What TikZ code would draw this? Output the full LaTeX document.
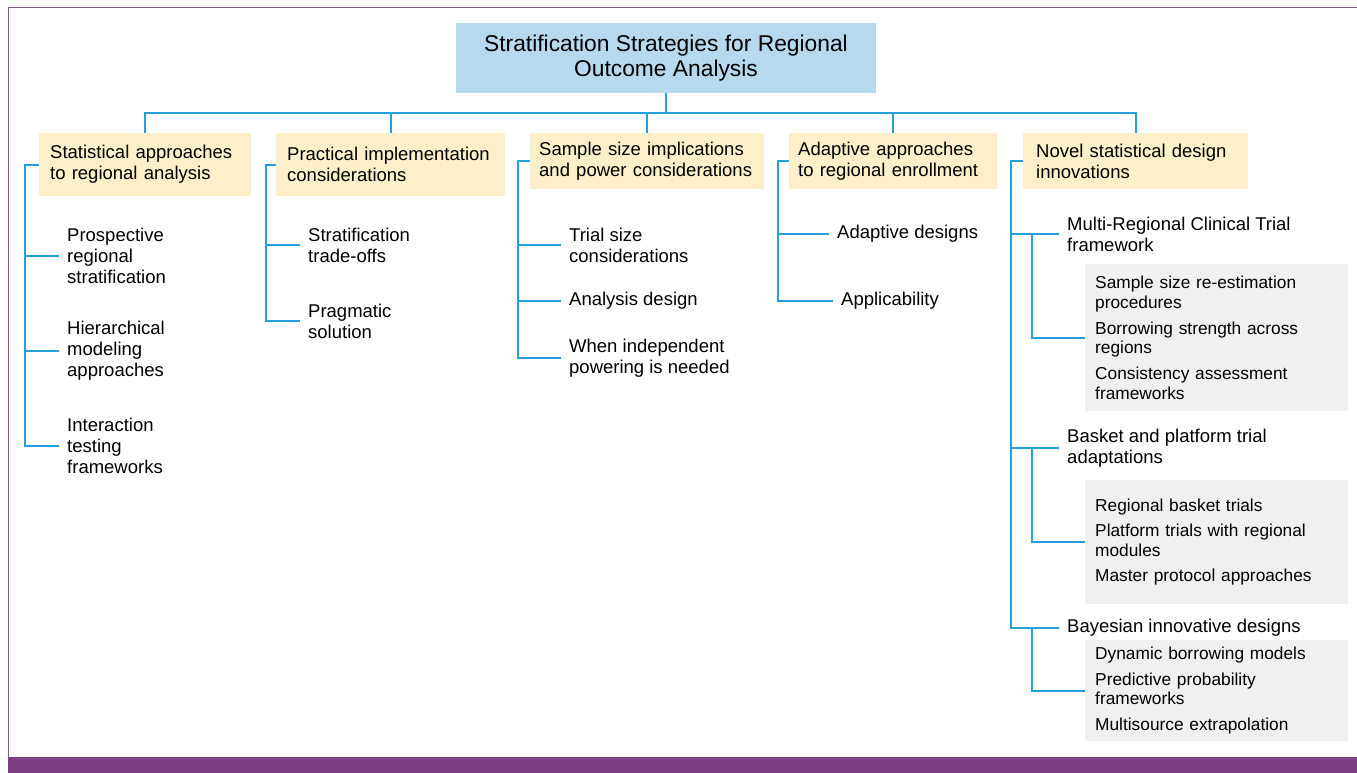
\documentclass[tikz,border=0pt]{standalone}
\usepackage{fontspec}
\setmainfont{Liberation Sans}
\usepackage{tikz}

\definecolor{linkblue}{RGB}{36,160,220}
\definecolor{titlefill}{RGB}{182,217,239}
\definecolor{catfill}{RGB}{253,239,201}
\definecolor{itemfill}{RGB}{240,240,240}
\definecolor{framepurple}{RGB}{140,90,147}
\definecolor{barpurple}{RGB}{126,62,130}

\newcommand{\titlefont}{\fontsize{22.8}{25}\selectfont}
\newcommand{\catfont}{\fontsize{18.5}{21}\selectfont}
\newcommand{\kidfont}{\fontsize{18.5}{21}\selectfont}
\newcommand{\itemfont}{\fontsize{17.3}{19.5}\selectfont}

\tikzset{
  link/.style={linkblue, line width=2.2pt},
  titlebox/.style={fill=titlefill, align=center, inner sep=0pt, font=\titlefont},
  catbox/.style={fill=catfill, anchor=north west, inner xsep=11pt, inner ysep=0pt, align=left, font=\catfont},
  kid/.style={anchor=west, inner xsep=8pt, inner ysep=0pt, align=left, font=\kidfont},
  itembox/.style={fill=itemfill, anchor=north west, inner xsep=10pt, inner ysep=0pt, align=left,
    text width=243pt, minimum width=263pt, font=\itemfont},
}

\begin{document}
\begin{tikzpicture}[x=1pt, y=-1pt]
  \useasboundingbox (0,0) rectangle (1357,773) ;
  % frame and footer bar
  \draw[framepurple, line width=1.5pt] (8.5,757) -- (8.5,7.5) -- (1357,7.5) ;
  \fill[barpurple] (8,757) rectangle (1357,773) ;

  \node[titlebox, minimum width=420pt, minimum height=70pt] (title) at (666,58) {Stratification Strategies for Regional\\Outcome Analysis} ;

  \node[catbox, text width=190pt, minimum height=63pt] (c1) at (39,133) {Statistical approaches\\to regional analysis} ;
  \node[catbox, text width=207pt, minimum height=63pt] (c2) at (276,133) {Practical implementation\\considerations} ;
  \node[catbox, inner xsep=9pt, text width=216pt, minimum height=56pt] (c3) at (530,133) {Sample size implications\\and power considerations} ;
  \node[catbox, inner xsep=9pt, text width=190pt, minimum height=56pt] (c4) at (789,133) {Adaptive approaches\\to regional enrollment} ;
  \node[catbox, inner xsep=13pt, text width=199pt, minimum height=56pt] (c5) at (1023,133) {Novel statistical design\\innovations} ;

  \foreach \c in {c1,c2,c3,c4,c5}
    \draw[link] (title.south) -- ++(0,20) -| (\c.north) ;

  % statistical approaches
  \node[kid] (k11) at (59,256) {Prospective\\regional\\stratification} ;
  \node[kid] (k12) at (59,351) {Hierarchical\\modeling\\approaches} ;
  \node[kid] (k13) at (59,446) {Interaction\\testing\\frameworks} ;
  \foreach \k in {k11,k12,k13}
    \draw[link] (c1.west) -- ++(-14,0) |- (\k.west) ;

  % practical implementation
  \node[kid] (k21) at (300,245) {Stratification\\trade-offs} ;
  \node[kid] (k22) at (300,321) {Pragmatic\\solution} ;
  \foreach \k in {k21,k22}
    \draw[link] (c2.west) -- ++(-10,0) |- (\k.west) ;

  % sample size
  \node[kid] (k31) at (561,245) {Trial size\\considerations} ;
  \node[kid] (k32) at (561,301) {Analysis design} ;
  \node[kid] (k33) at (561,358) {When independent\\powering is needed} ;
  \foreach \k in {k31,k32,k33}
    \draw[link] (c3.west) -- ++(-12,0) |- (\k.west) ;

  % adaptive approaches
  \node[kid] (k41) at (829,234) {Adaptive designs} ;
  \node[kid] (k42) at (833,301) {Applicability} ;
  \foreach \k in {k41,k42}
    \draw[link] (c4.west) -- ++(-11,0) |- (\k.west) ;

  % novel designs
  \node[kid] (m1) at (1059,234) {Multi-Regional Clinical Trial\\framework} ;
  \node[kid] (m2) at (1059,448) {Basket and platform trial\\adaptations} ;
  \node[kid] (m3) at (1059,628) {Bayesian innovative designs} ;
  \foreach \k in {m1,m2,m3}
    \draw[link] (c5.west) -- ++(-12,0) |- (\k.west) ;

  \node[itembox, minimum height=147pt] (g1) at (1085,264) {Sample size re-estimation\\procedures\\[6.5pt]Borrowing strength across\\regions\\[6.5pt]Consistency assessment\\frameworks} ;
  \node[itembox, minimum height=124pt] (g2) at (1085,480) {Regional basket trials\\[6pt]Platform trials with regional\\modules\\[6pt]Master protocol approaches} ;
  \node[itembox, minimum height=101pt] (g3) at (1085,640) {Dynamic borrowing models\\[6pt]Predictive probability\\frameworks\\[6pt]Multisource extrapolation} ;
  \draw[link] (m1.west) ++(-27,0) |- (g1.west) ;
  \draw[link] (m2.west) ++(-27,0) |- (g2.west) ;
  \draw[link] (m3.west) ++(-27,0) |- (g3.west) ;
\end{tikzpicture}
\end{document}
